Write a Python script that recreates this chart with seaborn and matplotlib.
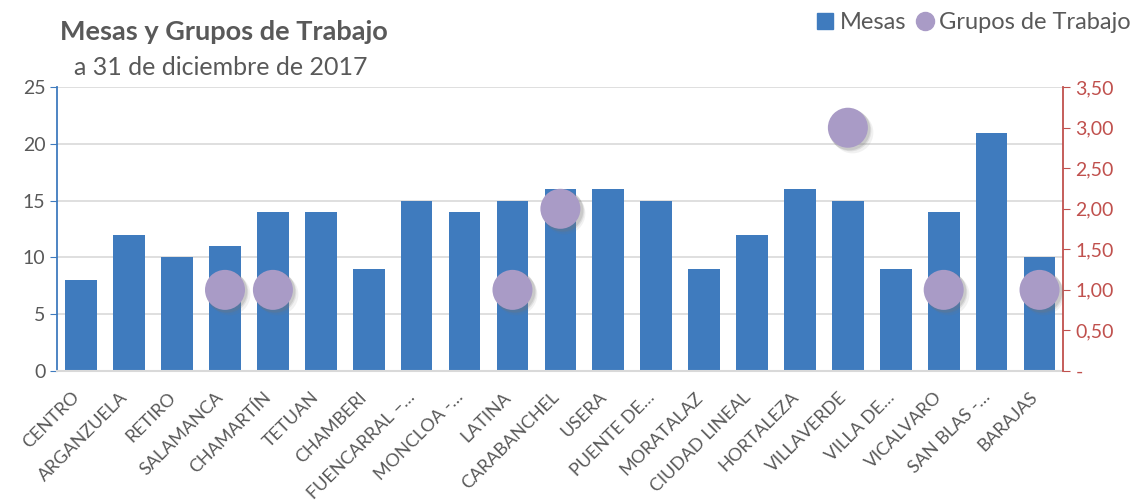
import numpy as np
import pandas as pd
import matplotlib
matplotlib.use("Agg")
import matplotlib.pyplot as plt
import matplotlib.transforms as mtransforms
import seaborn as sns

distritos = ["CENTRO", "ARGANZUELA", "RETIRO", "SALAMANCA", "CHAMARTÍN", "TETUAN",
             "CHAMBERI", "FUENCARRAL –…", "MONCLOA -…", "LATINA", "CARABANCHEL",
             "USERA", "PUENTE DE…", "MORATALAZ", "CIUDAD LINEAL", "HORTALEZA",
             "VILLAVERDE", "VILLA DE…", "VICALVARO", "SAN BLAS -…", "BARAJAS"]
mesas = [8, 12, 10, 11, 14, 14, 9, 15, 14, 15, 16, 16, 15, 9, 12, 16, 15, 9, 14, 21, 10]
grupos = [np.nan, np.nan, np.nan, 1, 1, np.nan, np.nan, np.nan, np.nan, 1, 2,
          np.nan, np.nan, np.nan, np.nan, np.nan, 3, np.nan, 1, np.nan, 1]

BAR = "#3F7BBE"
DOT = "#A99BC6"
RED = "#C0504D"
GREY = "#595959"

df = pd.DataFrame({"distrito": distritos, "mesas": mesas, "grupos": grupos})
df["pos"] = np.arange(len(df))

sns.set_style("white")
plt.rcParams["font.family"] = ["Lato", "DejaVu Sans"]

fig, ax = plt.subplots(figsize=(11.46, 5.04), dpi=100)
fig.subplots_adjust(left=0.05, right=0.928, top=0.827, bottom=0.264)

sns.barplot(data=df, x="distrito", y="mesas", color=BAR, saturation=1,
            width=0.66, linewidth=0, edgecolor="none", ax=ax, zorder=2)
ax.set_ylim(0, 25)
ax.set_yticks(range(0, 26, 5))
ax.set_xlim(-0.5, len(df) - 0.5)
ax.yaxis.grid(True, color="#D9D9D9", lw=1.2, zorder=0)
ax.set_axisbelow(True)
ax.set_xlabel("")
ax.set_ylabel("")
ax.tick_params(axis="y", labelsize=14, colors=GREY, length=5, direction="out")
ax.tick_params(axis="y", color=BAR)
ax.tick_params(axis="x", labelsize=13, colors=GREY, length=0, pad=17)
shift = mtransforms.ScaledTranslation(-3 / 72, 0, fig.dpi_scale_trans)
for lab in ax.get_xticklabels():
    lab.set_rotation(45)
    lab.set_ha("right")
    lab.set_va("center")
    lab.set_rotation_mode("anchor")
    lab.set_transform(lab.get_transform() + shift)
for s in ["top", "right"]:
    ax.spines[s].set_visible(False)
ax.spines["left"].set_color(BAR)
ax.spines["left"].set_linewidth(1.3)
ax.spines["bottom"].set_color("#D9D9D9")
ax.spines["bottom"].set_linewidth(1.5)

ax2 = ax.twinx()
pts = df.dropna()
# soft shadow behind the circles
for off, a in [(0.08, 0.10), (0.05, 0.15), (0.03, 0.2)]:
    ax2.scatter(pts["pos"] + off, pts["grupos"] - off * 0.6, s=900, color="#777777",
                alpha=a, linewidths=0, zorder=3)
sns.scatterplot(data=pts, x="pos", y="grupos", s=830, color=DOT, edgecolor="none",
                ax=ax2, zorder=4, legend=False)
ax2.set_ylim(0, 3.5)
ax2.set_yticks(np.arange(0, 3.51, 0.5))
ax2.set_yticklabels(["-"] + [f"{v:.2f}".replace(".", ",") for v in np.arange(0.5, 3.51, 0.5)])
ax2.set_ylabel("")
ax2.tick_params(axis="y", labelsize=14, colors=RED, length=5, direction="out")
for s in ["top", "left", "bottom"]:
    ax2.spines[s].set_visible(False)
ax2.spines["right"].set_color(RED)
ax2.spines["right"].set_linewidth(1.3)

fig.text(0.052, 0.921, "Mesas y Grupos de Trabajo", fontsize=19.5, fontweight="bold",
         color=GREY, va="baseline")
fig.text(0.065, 0.851, "a 31 de diciembre de 2017", fontsize=18, color=GREY,
         va="baseline")

h1 = plt.Line2D([], [], marker="s", ls="", color=BAR, markersize=11)
h2 = plt.Line2D([], [], marker="o", ls="", color=DOT, markersize=13)
fig.legend([h1, h2], ["Mesas", "Grupos de Trabajo"], loc="upper right",
           bbox_to_anchor=(0.997, 1.0), borderaxespad=0.1, ncol=2, frameon=False,
           fontsize=17, handletextpad=0.0, columnspacing=0.2, handlelength=1.2,
           labelcolor=GREY)

fig.savefig("out.png", dpi=100)
